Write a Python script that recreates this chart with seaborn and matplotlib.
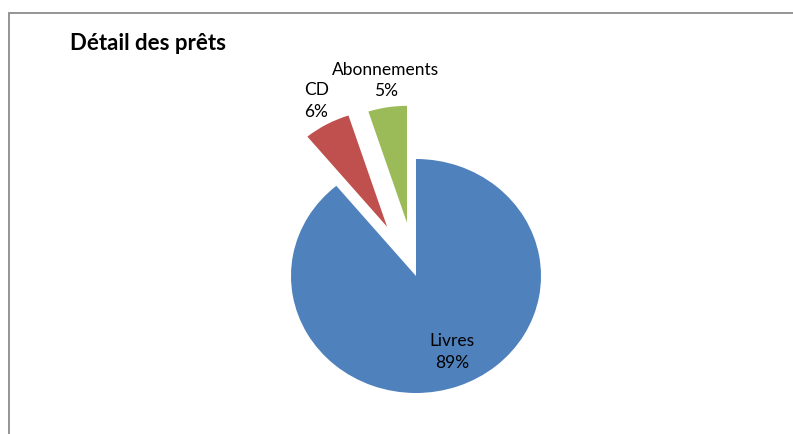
import numpy as np
import matplotlib
matplotlib.use("Agg")
import matplotlib.pyplot as plt
from matplotlib.patches import Rectangle
import seaborn as sns

# data
categories = ["Livres", "CD", "Abonnements"]
shares = [89, 6, 5]
colors = ["#4F81BD", "#C0504D", "#9BBB59"]
explode = [0.0, 0.48, 0.46]

sns.set_theme(style="white")
plt.rcParams["font.family"] = ["Lato", "DejaVu Sans"]

W, H = 793, 435
fig = plt.figure(figsize=(W / 100, H / 100), dpi=100)
ax = fig.add_axes([0, 0, 1, 1])

# pie centre / radii in pixels
cx, cy, rx, ry = 416, 277, 125, 117

wedges, _ = ax.pie(shares, colors=colors, startangle=90, counterclock=False,
                   explode=explode, radius=1.0,
                   wedgeprops=dict(linewidth=0))
ax.set_aspect("auto")
ax.set_xlim(-cx / rx, (W - cx) / rx)
ax.set_ylim(-(H - cy) / ry, cy / ry)
ax.axis("off")

# data labels
for w, cat, val in zip(wedges, categories, shares):
    mid = np.deg2rad((w.theta1 + w.theta2) / 2)
    if val > 50:
        x = w.center[0] + 0.62 * np.cos(mid) + 0.08
        y = w.center[1] + 0.62 * np.sin(mid) - 0.06
    else:
        x = w.center[0] + 1.22 * np.cos(mid) + 0.02
        y = w.center[1] + 1.24 * np.sin(mid)
    ax.text(x, y, f"{cat}\n{val}%", ha="center", va="center",
            fontsize=12.5, color="#000000", linespacing=1.45)

fig.text(70 / W, 1 - 43 / H, "Détail des prêts", ha="left", va="center",
         fontsize=16, fontweight="bold", color="#000000")

# chart frame (cropped: only top and left visible)
fig.patches.append(Rectangle((8.5 / W, -0.1), 1.2, 1.1 - 13.5 / H,
                             transform=fig.transFigure, fill=False,
                             edgecolor="#8c8c8c", linewidth=1.3))

fig.savefig("out.png", dpi=100, facecolor="white")
